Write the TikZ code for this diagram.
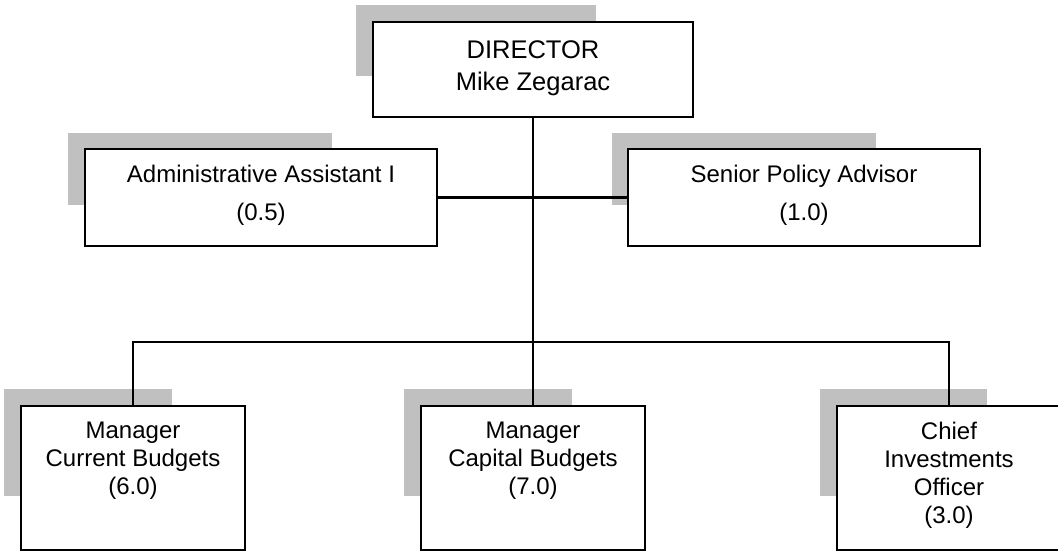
\documentclass[tikz,border=0pt]{standalone}
\usepackage{fontspec}
\setmainfont{Liberation Sans}
\usetikzlibrary{backgrounds}
\definecolor{shadowgray}{RGB}{192,192,192}

\begin{document}
\begin{tikzpicture}[x=1pt,y=-1pt,
  post/.style={draw=black,line width=2.6pt,fill=white,inner sep=0pt},
  lbl/.style={anchor=north,align=center,inner sep=0pt,font=\fontsize{24}{28}\selectfont},
  link/.style={line width=2.4pt},
  drop/.style={fill=shadowgray}]
\useasboundingbox (0,0) rectangle (1058,553);
\node[post,minimum width=320pt,minimum height=95pt] (dir) at (533,69.5) {};
\node[post,minimum width=352pt,minimum height=97pt] (adm) at (261,197.5) {};
\node[post,minimum width=352pt,minimum height=97pt] (spa) at (804,197.5) {};
\node[post,minimum width=224pt,minimum height=144pt] (cur) at (133,478) {};
\node[post,minimum width=224pt,minimum height=144pt] (cap) at (533,478) {};
\node[post,minimum width=224pt,minimum height=144pt] (cio) at (949,478) {};
\node[lbl,font=\fontsize{25.5}{32}\selectfont] (dir-t) at ([yshift=-20pt]dir.north) {DIRECTOR\\Mike Zegarac};
\node[lbl] (adm-t) at ([yshift=-17.5pt]adm.north) {Administrative Assistant I\\[10pt](0.5)};
\node[lbl] (spa-t) at ([yshift=-17.5pt]spa.north) {Senior Policy Advisor\\[10pt](1.0)};
\node[lbl] (cur-t) at ([yshift=-17.5pt]cur.north) {Manager\\Current Budgets\\(6.0)};
\node[lbl] (cap-t) at ([yshift=-17.5pt]cap.north) {Manager\\Capital Budgets\\(7.0)};
\node[lbl] (cio-t) at ([yshift=-17.5pt]cio.north) {Chief\\Investments\\Officer\\(3.0)};
\coordinate (bus) at (533,342);
\draw[link] (dir) -- (cap);
\draw[link] (adm) -- (spa);
\draw[link] (cur) |- (bus) -| (cio);
% shadows behind the boxes
\begin{scope}[on background layer]
\fill[drop] ([shift={(-16pt,16pt)}]dir.north west) rectangle ++(240,71);
\fill[drop] ([shift={(-16pt,15pt)}]adm.north west) rectangle ++(264,72);
\fill[drop] ([shift={(-15pt,15pt)}]spa.north west) rectangle ++(264,72);
\fill[drop] ([shift={(-16pt,16pt)}]cur.north west) rectangle ++(168,107);
\fill[drop] ([shift={(-16pt,16pt)}]cap.north west) rectangle ++(168,107);
\fill[drop] ([shift={(-16pt,16pt)}]cio.north west) rectangle ++(167,107);
\end{scope}
\end{tikzpicture}
\end{document}
